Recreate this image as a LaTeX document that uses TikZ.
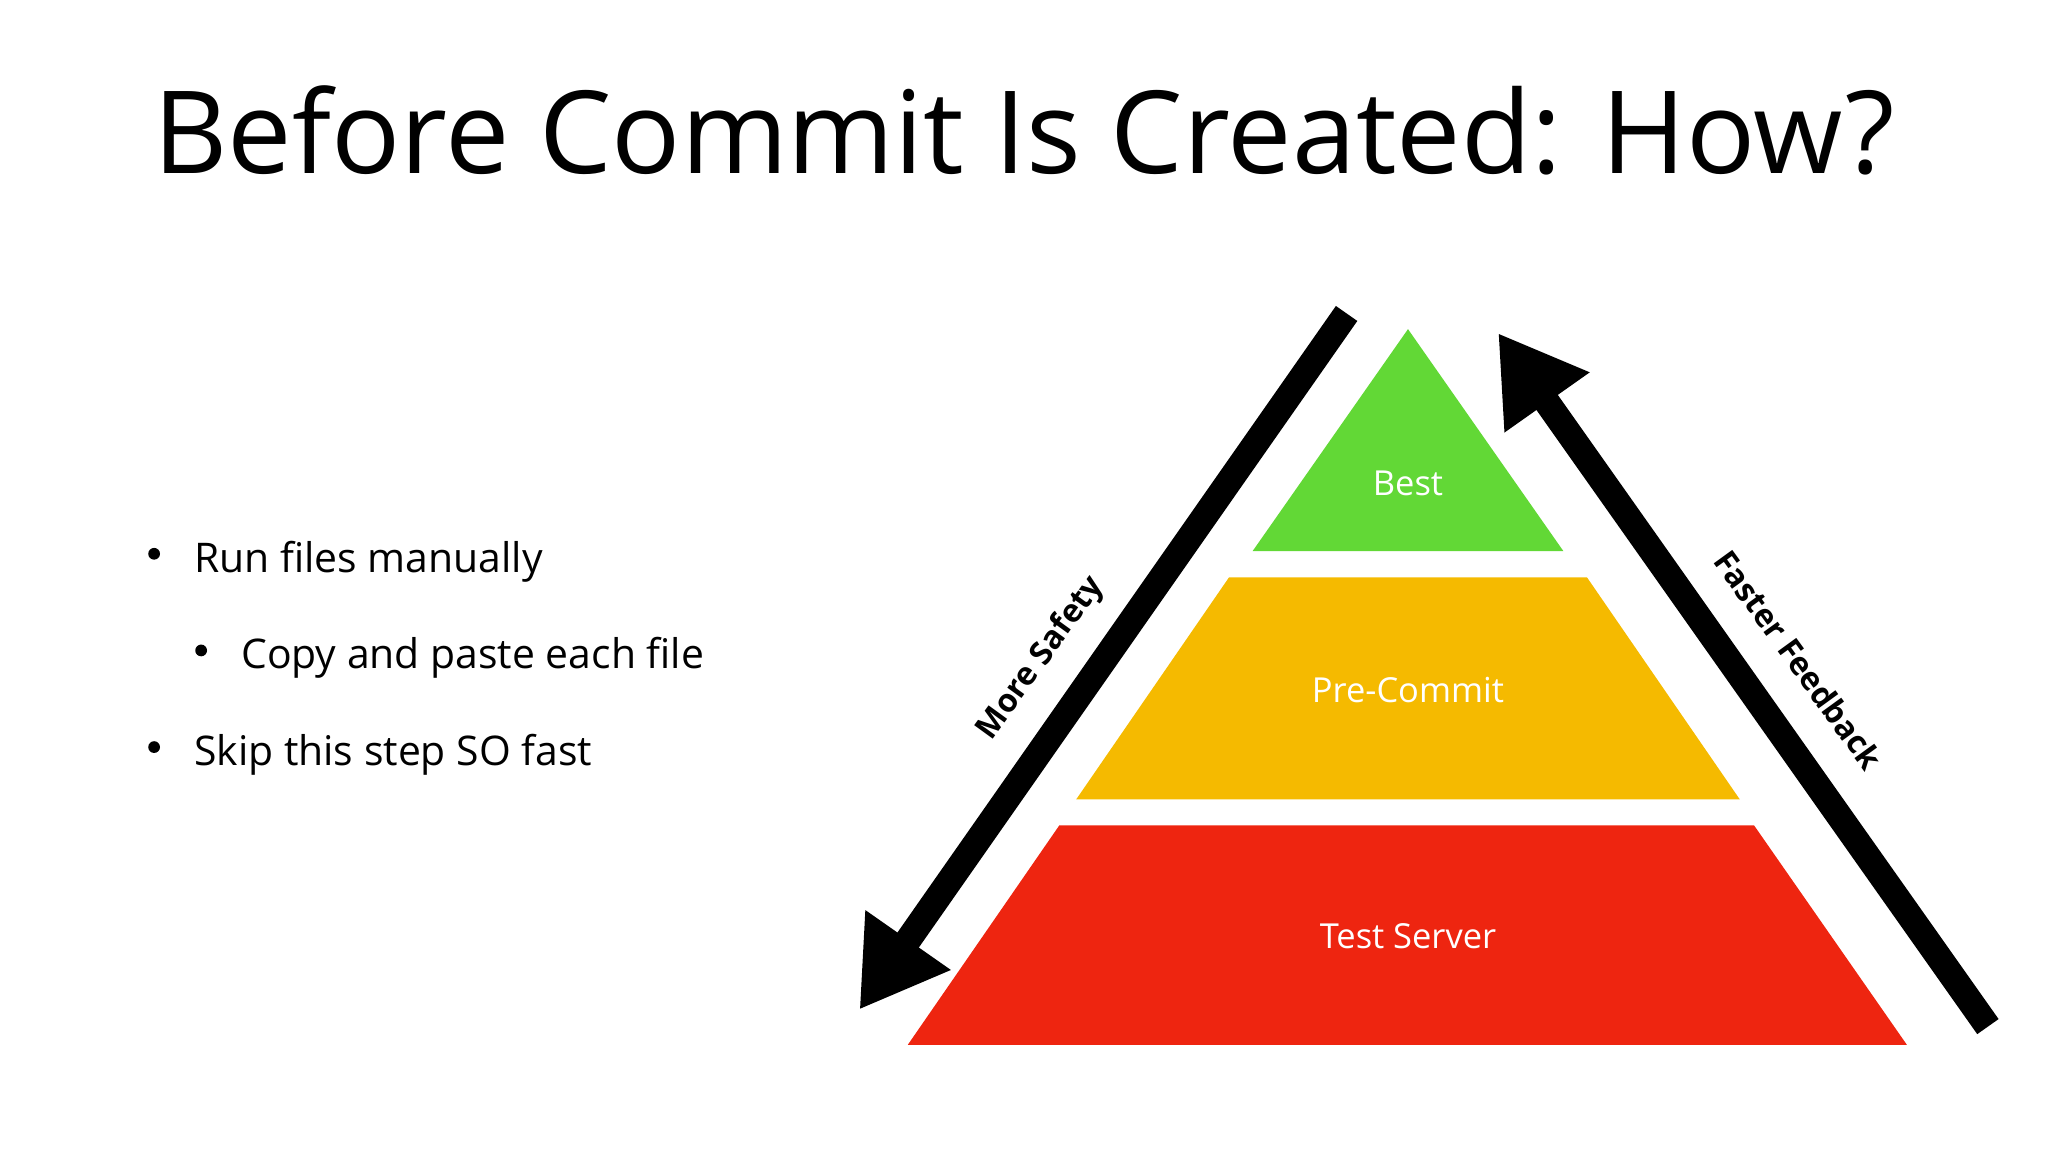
\documentclass[tikz,border=0pt]{standalone}
\usepackage{fontspec}
\setmainfont{Open Sans}
\usetikzlibrary{arrows.meta,positioning}
\definecolor{best}{RGB}{98,216,54}
\definecolor{pre}{RGB}{245,186,0}
\definecolor{srv}{RGB}{238,37,16}
\tikzset{
	tier/.style={draw=none},
	tierlabel/.style={text=white, font=\fontsize{7.5}{9}\selectfont},
	bigarrow/.style={line width=0.2cm, -{Triangle[length=0.65cm, width=0.75cm]}},
	arrowlabel/.style={font=\bfseries\fontsize{7}{9}\selectfont},
	bullet/.style={anchor=base west, font=\fontsize{8.9}{11}\selectfont}
}
\begin{document}
\begin{tikzpicture}[x=0.01cm, y=-0.01cm]
	\useasboundingbox (0,0) rectangle (1568,882);
	\node (title) [anchor=base, font=\fontsize{25}{30}\selectfont] at (784,133) {Before Commit Is Created: How?};
	% bullets
	\node (b1) [bullet, inner xsep=0pt] at (148,438) {Run files manually};
	\node (b2) [bullet, inner xsep=0pt] at (184,512) {Copy and paste each file};
	\node (b3) [bullet, inner xsep=0pt] at (148,586) {Skip this step SO fast};
	\fill (118,424) circle (4.5);
	\fill (154,498) circle (4.5);
	\fill (118,572) circle (4.5);
	% pyramid
	\fill[best, tier] (1078,252) -- (1197,422) -- (959,422) -- cycle;
	\fill[pre, tier] (941,442) -- (1215,442) -- (1332,612) -- (824,612) -- cycle;
	\fill[srv, tier] (811,632) -- (1343,632) -- (1460,800) -- (695,800) -- cycle;
	\node (best) [tierlabel] at (1078,370) {Best};
	\node (precommit) [tierlabel] at (1078,528) {Pre-Commit};
	\node (server) [tierlabel] at (1078,717) {Test Server};
	% arrows
	\coordinate (safetystart) at (1031,240);
	\coordinate (safetyend) at (658,773);
	\coordinate (feedstart) at (1522,786);
	\coordinate (feedend) at (1147,255);
	\draw[bigarrow] (safetystart) -- (safetyend);
	\draw[bigarrow] (feedstart) -- (feedend);
	\node (safety) [arrowlabel, rotate=54] at (797,504) {More Safety};
	\node (feedback) [arrowlabel, rotate=-54] at (1377,505) {Faster Feedback};
\end{tikzpicture}
\end{document}
